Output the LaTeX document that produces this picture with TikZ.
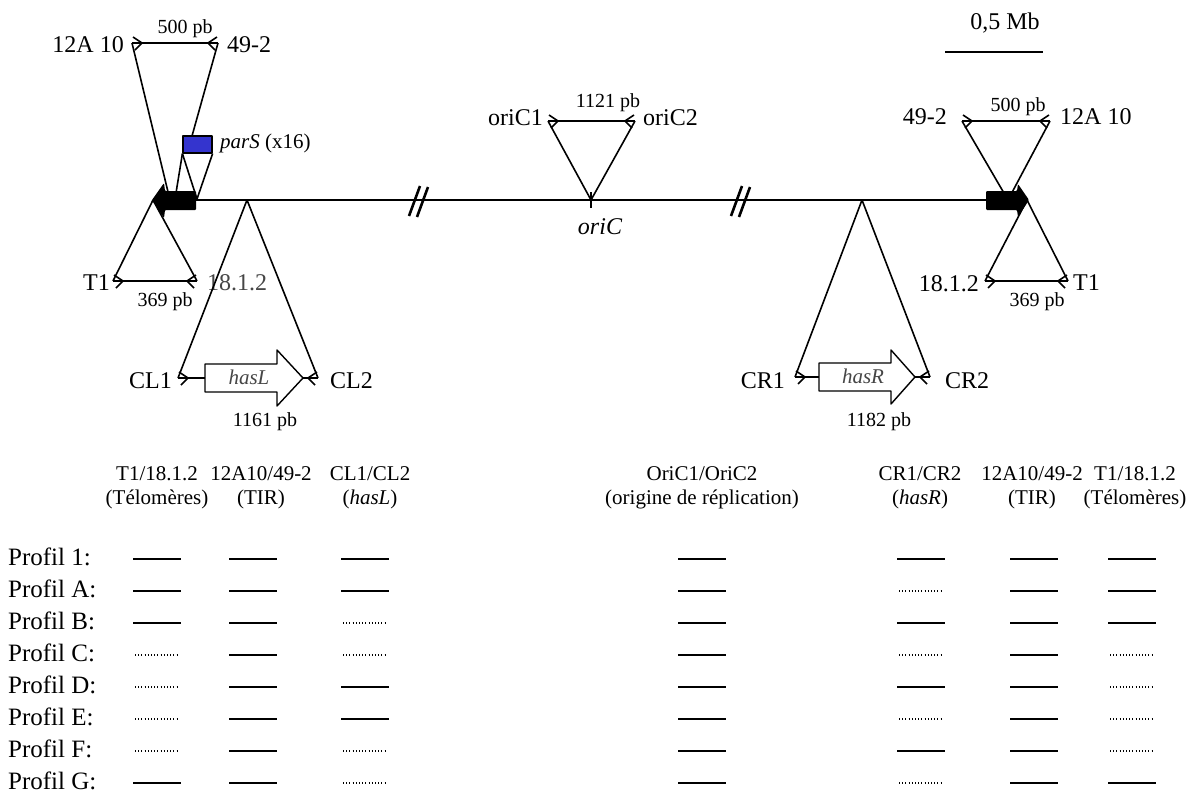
\documentclass[tikz,border=0pt]{standalone}
\usepackage{fontspec}
\setmainfont{Liberation Serif}
\definecolor{parblue}{RGB}{52,52,206}
\definecolor{txtgray}{RGB}{70,70,70}
\begin{document}
\begin{tikzpicture}[x=1pt,y=-1pt,line join=round,
  lbl/.style={inner sep=0pt,font=\fontsize{24}{28}\selectfont},
  pbl/.style={inner sep=0pt,font=\fontsize{20}{24}\selectfont},
  hdr/.style={inner sep=0pt,align=center,font=\fontsize{21}{24}\selectfont},
  prof/.style={inner sep=0pt,anchor=west,font=\fontsize{25}{28}\selectfont},
  tri/.style={line width=1.6pt},
  chrom/.style={line width=2.2pt},
  yesbar/.style={line width=2.6pt},
  nobar/.style={line width=1.1pt,dash pattern=on 1pt off 2.2pt},
  primerR/.pic={\draw[tri] (1,-6) -- (10,0) -- (3,7);},
  primerL/.pic={\draw[tri] (-1,-6) -- (-10,0) -- (-3,7);}]
\fill[white] (0,0) rectangle (1187,793);
\useasboundingbox (0,0) rectangle (1187,793);

% ---------- scale ----------
\node[lbl] (scale) at (1005,23) {0,5 Mb};
\coordinate (sbA) at (945,52);
\coordinate (sbB) at (1043,52);
\draw[chrom] (sbA) -- (sbB);

% ---------- chromosome ----------
\coordinate (chrL) at (195,200);
\coordinate (chrR) at (987,200);
\draw[chrom] (chrL) -- (chrR);
% break marks
\draw[line width=2.6pt] (409,216) -- (420,186) (417,217) -- (428,187);
\draw[line width=2.6pt] (731,216) -- (742,186) (739,217) -- (750,187);

% ---------- left TIR ----------
\coordinate (tLa) at (132,43);
\coordinate (tLb) at (218,43);
\coordinate (tLap) at (169,196);
\coordinate (parTop) at (192,136);
\draw[tri] (tLa) -- (tLb);
\draw[tri] (tLa) -- (tLap);
\draw[tri] (tLb) -- (parTop);
\pic at (tLa) {primerR};
\pic at (tLb) {primerL};
\node[lbl,anchor=east] (l12a) at (124,45) {12A 10};
\node[lbl,anchor=west] (l492) at (227,45) {49-2};
\node[pbl] (l500) at (185,29) {500 pb};

% parS
\node[draw,fill=parblue,line width=1.2pt,minimum width=29pt,minimum height=17pt,inner sep=0pt] (parS) at (197.5,144.5) {};
\coordinate (pA) at (176,193);
\coordinate (pB) at (197,199);
\draw[tri] (parS.south west) -- (pA);
\draw[tri] (parS.south west) -- (pB);
\draw[tri] (parS.south east) -- (pB);
\node[inner sep=0pt,anchor=west,font=\fontsize{21}{24}\selectfont] (parSlbl) at (220,143) {\textit{parS} (x16)};

% ---------- left telomere ----------
\coordinate (tlA) at (113,281);
\coordinate (tlB) at (197,281);
\coordinate (tlAp) at (153,200);
\draw[tri] (tlA) -- (tlAp) -- (tlB);
\draw[tri] (tlA) -- (tlB);
\pic at (tlA) {primerR};
\pic at (tlB) {primerL};
\node[lbl,anchor=east] (lT1) at (110,283) {T1};
\node[lbl,anchor=west,text=txtgray] (l1812) at (207,283) {18.1.2};
\node[pbl] (l369) at (165,302) {369 pb};

% left black arrow
\fill[rounded corners=1pt] (196,191) -- (165,191) -- (164,183) -- (152,200) -- (164,218) -- (165,210) -- (196,210) -- cycle;

% ---------- hasL ----------
\coordinate (hLap) at (247,200);
\coordinate (hLa) at (178,378);
\coordinate (hLb) at (318,378);
\coordinate (hLs) at (205,378);
\coordinate (hLt) at (303,378);
\draw[tri] (hLa) -- (hLap) -- (hLb);
\draw[tri] (hLa) -- (hLs);
\draw[tri] (hLt) -- (hLb);
\draw[line width=1.4pt,fill=white] (205,364) -- (277,364) -- (277,350) -- (hLt) -- (277,406) -- (277,392) -- (205,392) -- cycle;
\pic at (hLa) {primerR};
\pic at (hLb) {primerL};
\node[inner sep=0pt,text=txtgray,font=\fontsize{21}{24}\selectfont\itshape] (hasL) at (249,377) {hasL};
\node[lbl,anchor=east] (lCL1) at (172,381) {CL1};
\node[lbl,anchor=west] (lCL2) at (330,381) {CL2};
\node[pbl] (l1161) at (265,422) {1161 pb};

% ---------- oriC ----------
\coordinate (oA) at (548,121);
\coordinate (oB) at (635,121);
\coordinate (oAp) at (591,200);
\draw[tri] (oA) -- (oB);
\draw[tri] (oA) -- (oAp) -- (oB);
\draw[tri] (591,192) -- (591,208);
\pic at (oA) {primerR};
\pic at (oB) {primerL};
\node[lbl,anchor=east] (loc1) at (543,118) {oriC1};
\node[lbl,anchor=west] (loc2) at (643,118) {oriC2};
\node[pbl] (l1121) at (608,103) {1121 pb};
\node[lbl,font=\fontsize{24}{28}\selectfont\itshape] (loriC) at (600,227) {oriC};

% ---------- right TIR ----------
\coordinate (tRa) at (962,121);
\coordinate (tRb) at (1050,121);
\coordinate (tRap) at (1008,200);
\draw[tri] (tRa) -- (tRb);
\draw[tri] (tRa) -- (tRap) -- (tRb);
\pic at (tRa) {primerR};
\pic at (tRb) {primerL};
\node[lbl,anchor=east] (r492) at (947,117) {49-2};
\node[lbl,anchor=west] (r12a) at (1060,117) {12A 10};
\node[pbl] (r500) at (1018,107) {500 pb};

% ---------- right telomere ----------
\coordinate (trA) at (985,281);
\coordinate (trB) at (1068,281);
\coordinate (trAp) at (1027,200);
\draw[tri] (trA) -- (trAp) -- (trB);
\draw[tri] (trA) -- (trB);
\pic at (trA) {primerR};
\pic at (trB) {primerL};
\node[lbl,anchor=east] (r1812) at (979,284) {18.1.2};
\node[lbl,anchor=west] (rT1) at (1073,283) {T1};
\node[pbl] (r369) at (1037,302) {369 pb};

% right black arrow
\fill[rounded corners=1pt] (986,191) -- (1017,191) -- (1018,184) -- (1029,200) -- (1018,217) -- (1017,210) -- (986,210) -- cycle;

% ---------- hasR ----------
\coordinate (hRap) at (862,200);
\coordinate (hRa) at (795,377);
\coordinate (hRb) at (930,377);
\coordinate (hRs) at (819,377);
\coordinate (hRt) at (915,377);
\draw[tri] (hRa) -- (hRap) -- (hRb);
\draw[tri] (hRa) -- (hRs);
\draw[tri] (hRt) -- (hRb);
\draw[line width=1.4pt,fill=white] (819,363) -- (891,363) -- (891,350) -- (hRt) -- (891,404) -- (891,391) -- (819,391) -- cycle;
\pic at (hRa) {primerR};
\pic at (hRb) {primerL};
\node[inner sep=0pt,text=txtgray,font=\fontsize{21}{24}\selectfont\itshape] (hasR) at (863,376) {hasR};
\node[lbl,anchor=east] (lCR1) at (785,381) {CR1};
\node[lbl,anchor=west] (lCR2) at (945,381) {CR2};
\node[pbl] (l1182) at (879,422) {1182 pb};

% ---------- table headers ----------
\node[hdr] (h1) at (157,488) {T1/18.1.2\\(Télomères)};
\node[hdr] (h2) at (261,488) {12A10/49-2\\(TIR)};
\node[hdr] (h3) at (370,488) {CL1/CL2\\(\textit{hasL})};
\node[hdr] (h4) at (702,488) {OriC1/OriC2\\(origine de réplication)};
\node[hdr] (h5) at (920,488) {CR1/CR2\\(\textit{hasR})};
\node[hdr] (h6) at (1032,488) {12A10/49-2\\(TIR)};
\node[hdr] (h7) at (1135,488) {T1/18.1.2\\(Télomères)};

% ---------- profiles ----------
\foreach \nm/\c/\k in {1/1111111/0,A/1111011/1,B/1011111/2,C/0101010/3,D/0111110/4,E/0111010/5,F/0101110/6,G/1101011/7}{
  \pgfmathsetmacro{\yy}{557+32*\k}
  \node[prof] (prof\nm) at (8,\yy) {Profil \nm:};
}
\foreach \k/\pat in {0/{1,1,1,1,1,1,1},1/{1,1,1,1,0,1,1},2/{1,1,0,1,1,1,1},3/{0,1,0,1,0,1,0},4/{0,1,1,1,1,1,0},5/{0,1,1,1,0,1,0},6/{0,1,0,1,1,1,0},7/{1,1,0,1,0,1,1}}{
  \pgfmathsetmacro{\yy}{559+32*\k}
  \foreach \v [count=\i] in \pat {
    \pgfmathsetmacro{\xx}{{157,253,365,702,921,1034,1132}[\i-1]}
    \ifnum\v=1
      \draw[yesbar] (\xx-24,\yy) -- (\xx+24,\yy);
    \else
      \draw[nobar] (\xx-22,\yy) -- (\xx+22,\yy);
    \fi
  }
}
\end{tikzpicture}
\end{document}
